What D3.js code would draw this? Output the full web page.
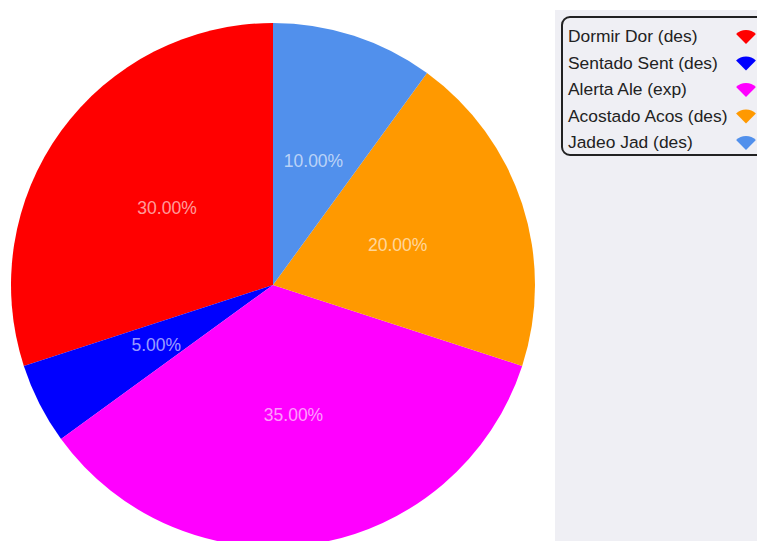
<!DOCTYPE html>
<html>
<head>
<meta charset="utf-8">
<script src="https://cdn.jsdelivr.net/npm/d3@7"></script>
<style>
  body { margin: 0; background: #fff; }
  svg { display: block; font-family: "Liberation Sans", Arial, sans-serif; }
</style>
</head>
<body>
<svg id="chart" width="757" height="541"></svg>
<script>
const labels = ["Dormir Dor (des)", "Sentado Sent (des)", "Alerta Ale (exp)", "Acostado Acos (des)", "Jadeo Jad (des)"];
const values = [30, 5, 35, 20, 10];
const colors = ["#ff0000", "#0000ff", "#ff00ff", "#ff9900", "#5190ec"];

const width = 757;
const height = 541;
const radius = 262;
const cx = 273;
const cy = 285;

const svg = d3.select("#chart");

const data = labels.map((label, i) => ({ label, value: values[i], color: colors[i] }));
const total = d3.sum(values);

// counter-clockwise from 12 o'clock, in legend order
const pie = d3.pie()
  .sort(null)
  .value(d => d.value)
  .startAngle(0)
  .endAngle(-2 * Math.PI);

const arc = d3.arc().innerRadius(0).outerRadius(radius);
const labelArc = d3.arc().innerRadius(radius / 2).outerRadius(radius / 2);

const g = svg.append("g").attr("transform", `translate(${cx}, ${cy})`);

const arcs = pie(data);

g.selectAll("path.slice")
  .data(arcs)
  .join("path")
  .classed("slice", true)
  .attr("d", arc)
  .attr("fill", d => d.data.color);

g.selectAll("text.pct")
  .data(arcs)
  .join("text")
  .classed("pct", true)
  .attr("transform", d => `translate(${labelArc.centroid(d)})`)
  .attr("text-anchor", "middle")
  .attr("dy", "0.35em")
  .attr("font-size", 17.5)
  .attr("fill", "rgba(255,255,255,0.62)")
  .text(d => d3.format(".2f")(d.data.value / total * 100) + "%");

// legend panel
svg.append("rect")
  .attr("x", 555)
  .attr("y", 10)
  .attr("width", width - 555)
  .attr("height", height - 10)
  .attr("fill", "#efeff4");

svg.append("rect")
  .attr("x", 562)
  .attr("y", 17)
  .attr("width", 220)
  .attr("height", 138)
  .attr("rx", 8)
  .attr("ry", 8)
  .attr("fill", "none")
  .attr("stroke", "#222")
  .attr("stroke-width", 2);

const rowY = d3.scalePoint().domain(labels).range([36, 142]);

const item = svg.selectAll("g.item")
  .data(data)
  .join("g")
  .classed("item", true)
  .attr("transform", d => `translate(0, ${rowY(d.label)})`);

item.append("text")
  .attr("x", 568)
  .attr("dy", "0.35em")
  .attr("font-size", 17.4)
  .attr("fill", "#222")
  .text(d => d.label);

const icon = d3.arc()
  .innerRadius(0)
  .outerRadius(14)
  .startAngle(-Math.PI / 4)
  .endAngle(Math.PI / 4);

item.append("path")
  .attr("transform", "translate(746, 8)")
  .attr("d", icon())
  .attr("fill", d => d.color);
</script>
</body>
</html>
